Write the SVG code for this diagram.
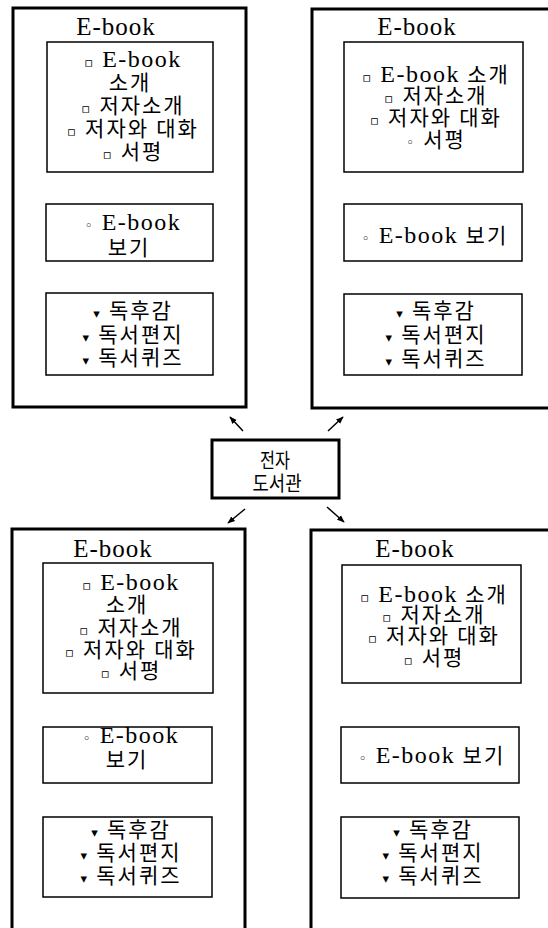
<svg xmlns="http://www.w3.org/2000/svg" width="548" height="928" viewBox="0 0 548 928">
<style>
.outer{fill:none;stroke:#000;stroke-width:3}
.inner{fill:none;stroke:#000;stroke-width:1.5}
.t{font-family:"Liberation Serif","Noto Sans CJK KR",serif;font-size:21px;text-anchor:middle;letter-spacing:2px;fill:#000}
.title{font-size:25px;letter-spacing:1px}
.e{font-size:24px;letter-spacing:1.5px}
.b{font-family:"DejaVu Sans",sans-serif;font-size:13px;fill:#000}
.c{font-family:"Noto Sans CJK KR",sans-serif;font-size:20px;text-anchor:middle;fill:#000}
.conn{stroke:#000;stroke-width:1.5;fill:none;marker-end:url(#ah)}
</style>
<defs>
<marker id="ah" viewBox="0 0 10 10" refX="9" refY="5" markerWidth="5" markerHeight="5" orient="auto">
<path d="M0,1 L10,5 L0,9 z" fill="#000"/>
</marker>
</defs>
<rect width="548" height="928" fill="#fff"/>

<g id="ebook-top-left">
<rect class="outer" x="13" y="8" width="233" height="399"/>
<text class="t title" x="116" y="35">E-book</text>
<rect class="inner" x="47" y="42" width="166" height="130"/>
<text class="t" x="133" y="67"><tspan class="b">▫</tspan> <tspan class="e">E-book</tspan></text>
<text class="t" x="130" y="90">소개</text>
<text class="t" x="133" y="113"><tspan class="b">▫</tspan> 저자소개</text>
<text class="t" x="133" y="136"><tspan class="b">▫</tspan> 저자와 대화</text>
<text class="t" x="133" y="159"><tspan class="b">▫</tspan> 서평</text>
<rect class="inner" x="46" y="204" width="167" height="57"/>
<text class="t" x="133" y="230"><tspan class="b">◦</tspan> <tspan class="e">E-book</tspan></text>
<text class="t" x="129" y="255">보기</text>
<rect class="inner" x="46" y="293" width="167" height="82"/>
<text class="t" x="133" y="318"><tspan class="b">▾</tspan> 독후감</text>
<text class="t" x="133" y="342"><tspan class="b">▾</tspan> 독서편지</text>
<text class="t" x="133" y="365"><tspan class="b">▾</tspan> 독서퀴즈</text>
</g>

<g id="ebook-top-right">
<rect class="outer" x="312" y="9" width="240" height="399"/>
<text class="t title" x="417" y="35">E-book</text>
<rect class="inner" x="344" y="42" width="179" height="130"/>
<text class="t" x="436" y="82"><tspan class="b">▫</tspan> <tspan class="e">E-book</tspan> 소개</text>
<text class="t" x="436" y="103"><tspan class="b">▫</tspan> 저자소개</text>
<text class="t" x="436" y="125"><tspan class="b">▫</tspan> 저자와 대화</text>
<text class="t" x="436" y="147"><tspan class="b">◦</tspan> 서평</text>
<rect class="inner" x="344" y="204" width="178" height="57"/>
<text class="t" x="435" y="243"><tspan class="b">◦</tspan> <tspan class="e">E-book</tspan> 보기</text>
<rect class="inner" x="344" y="294" width="178" height="81"/>
<text class="t" x="436" y="318"><tspan class="b">▾</tspan> 독후감</text>
<text class="t" x="436" y="342"><tspan class="b">▾</tspan> 독서편지</text>
<text class="t" x="436" y="366"><tspan class="b">▾</tspan> 독서퀴즈</text>
</g>

<g id="library">
<rect class="outer" x="212" y="440" width="127" height="58"/>
<text class="c" x="275" y="468" textLength="30" lengthAdjust="spacingAndGlyphs">전자</text>
<text class="c" x="277" y="491" textLength="49" lengthAdjust="spacingAndGlyphs">도서관</text>
</g>

<g id="connectors">
<line class="conn" x1="243" y1="431" x2="230" y2="417"/>
<line class="conn" x1="328" y1="431" x2="343" y2="417"/>
<line class="conn" x1="245" y1="509" x2="228" y2="523"/>
<line class="conn" x1="327" y1="507" x2="344" y2="522"/>
</g>

<g id="ebook-bottom-left">
<rect class="outer" x="12" y="529" width="233" height="412"/>
<text class="t title" x="113" y="557">E-book</text>
<rect class="inner" x="43" y="563" width="170" height="130"/>
<text class="t" x="131" y="590"><tspan class="b">▫</tspan> <tspan class="e">E-book</tspan></text>
<text class="t" x="127" y="612">소개</text>
<text class="t" x="131" y="635"><tspan class="b">▫</tspan> 저자소개</text>
<text class="t" x="131" y="657"><tspan class="b">▫</tspan> 저자와 대화</text>
<text class="t" x="131" y="678"><tspan class="b">▫</tspan> 서평</text>
<rect class="inner" x="43" y="727" width="169" height="56"/>
<text class="t" x="131" y="743"><tspan class="b">◦</tspan> <tspan class="e">E-book</tspan></text>
<text class="t" x="127" y="767">보기</text>
<rect class="inner" x="43" y="817" width="169" height="80"/>
<text class="t" x="131" y="837"><tspan class="b">▾</tspan> 독후감</text>
<text class="t" x="131" y="860"><tspan class="b">▾</tspan> 독서편지</text>
<text class="t" x="131" y="883"><tspan class="b">▾</tspan> 독서퀴즈</text>
</g>

<g id="ebook-bottom-right">
<rect class="outer" x="311" y="530" width="241" height="411"/>
<text class="t title" x="415" y="557">E-book</text>
<rect class="inner" x="342" y="565" width="179" height="118"/>
<text class="t" x="434" y="602"><tspan class="b">▫</tspan> <tspan class="e">E-book</tspan> 소개</text>
<text class="t" x="434" y="622"><tspan class="b">▫</tspan> 저자소개</text>
<text class="t" x="434" y="643"><tspan class="b">▫</tspan> 저자와 대화</text>
<text class="t" x="434" y="665"><tspan class="b">▫</tspan> 서평</text>
<rect class="inner" x="341" y="727" width="178" height="56"/>
<text class="t" x="432" y="763"><tspan class="b">◦</tspan> <tspan class="e">E-book</tspan> 보기</text>
<rect class="inner" x="341" y="817" width="178" height="81"/>
<text class="t" x="433" y="837"><tspan class="b">▾</tspan> 독후감</text>
<text class="t" x="433" y="860"><tspan class="b">▾</tspan> 독서편지</text>
<text class="t" x="433" y="883"><tspan class="b">▾</tspan> 독서퀴즈</text>
</g>
</svg>
